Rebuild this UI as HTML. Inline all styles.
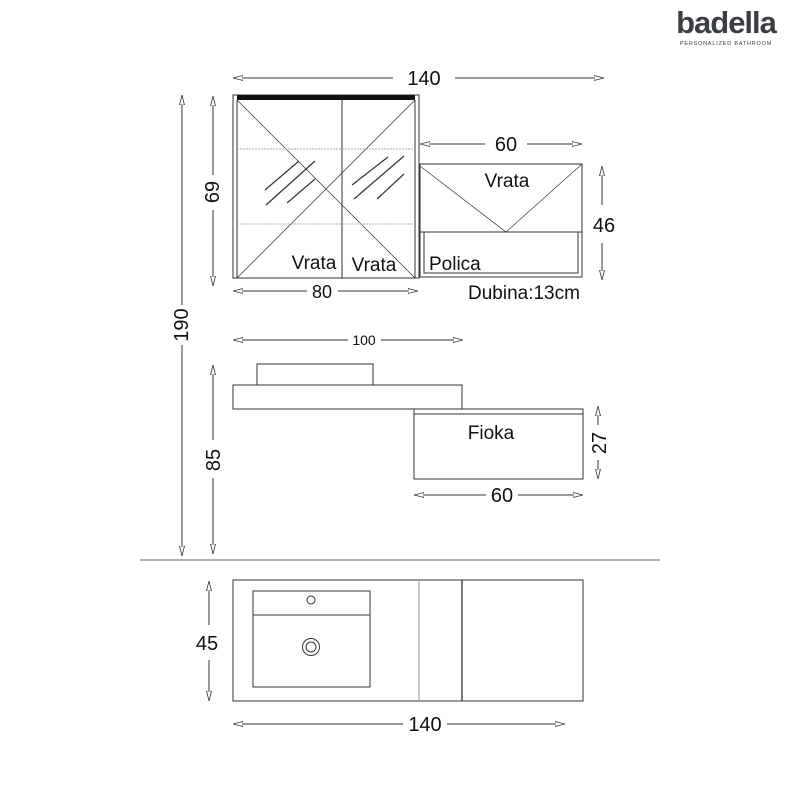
<!DOCTYPE html>
<html><head><style>body{margin:0;background:#fff}svg{display:block}</style></head><body>
<svg width="800" height="800" viewBox="0 0 800 800" xmlns="http://www.w3.org/2000/svg" font-family="Liberation Sans, sans-serif">
<defs>
<marker id="a" viewBox="0 0 10 6" refX="10" refY="3" markerWidth="10" markerHeight="6" orient="auto" markerUnits="userSpaceOnUse"><path d="M0,0.5 L10,3 L0,5.5 Z" fill="#fff" stroke="#333" stroke-width="0.8"/></marker>
</defs>
<rect width="800" height="800" fill="#fff"/>
<!-- logo -->
<text x="726" y="33" text-anchor="middle" font-size="31" font-weight="bold" fill="#3a3d42" letter-spacing="-1">badella</text>
<text x="726" y="45" text-anchor="middle" font-size="5.5" fill="#3a3d42" letter-spacing="0.8">PERSONALIZED BATHROOM</text>
<g stroke="#333" fill="none" stroke-width="1">
<!-- dims lines -->
<line x1="393" y1="78" x2="233" y2="78" marker-end="url(#a)"/><line x1="455" y1="78" x2="604" y2="78" marker-end="url(#a)"/>
<line x1="485" y1="144" x2="420" y2="144" marker-end="url(#a)"/><line x1="527" y1="144" x2="582" y2="144" marker-end="url(#a)"/>
<line x1="602" y1="205" x2="602" y2="166" marker-end="url(#a)"/><line x1="602" y1="243" x2="602" y2="280" marker-end="url(#a)"/>
<line x1="213" y1="175" x2="213" y2="96" marker-end="url(#a)"/><line x1="213" y1="210" x2="213" y2="286" marker-end="url(#a)"/>
<line x1="182" y1="305" x2="182" y2="95" marker-end="url(#a)"/><line x1="182" y1="345" x2="182" y2="556" marker-end="url(#a)"/>
<line x1="307" y1="291" x2="233" y2="291" marker-end="url(#a)"/><line x1="338" y1="291" x2="418" y2="291" marker-end="url(#a)"/>
<line x1="348" y1="340" x2="233" y2="340" marker-end="url(#a)"/><line x1="381" y1="340" x2="463" y2="340" marker-end="url(#a)"/>
<line x1="598" y1="425" x2="598" y2="406" marker-end="url(#a)"/><line x1="598" y1="460" x2="598" y2="479" marker-end="url(#a)"/>
<line x1="486" y1="495" x2="414" y2="495" marker-end="url(#a)"/><line x1="518" y1="495" x2="583" y2="495" marker-end="url(#a)"/>
<line x1="213" y1="440" x2="213" y2="365" marker-end="url(#a)"/><line x1="213" y1="478" x2="213" y2="554" marker-end="url(#a)"/>
<line x1="209" y1="625" x2="209" y2="581" marker-end="url(#a)"/><line x1="209" y1="660" x2="209" y2="701" marker-end="url(#a)"/>
<line x1="403" y1="724" x2="233" y2="724" marker-end="url(#a)"/><line x1="447" y1="724" x2="565" y2="724" marker-end="url(#a)"/>
<!-- top cabinet -->
<rect x="233" y="95" width="186" height="183"/>
<rect x="237" y="95" width="178" height="5" fill="#111" stroke="none"/>
<line x1="237" y1="100" x2="237" y2="278"/><line x1="415" y1="100" x2="415" y2="278"/>
<line x1="342" y1="100" x2="342" y2="278"/>
<line x1="237" y1="100" x2="415" y2="278" stroke-width="0.7"/><line x1="415" y1="100" x2="237" y2="278" stroke-width="0.7"/>
<line x1="237" y1="149" x2="415" y2="149" stroke="#aaa" stroke-dasharray="2,1"/><line x1="237" y1="224" x2="415" y2="224" stroke="#aaa" stroke-dasharray="2,1"/>
<g stroke-width="1.2"><line x1="265" y1="190" x2="299" y2="161"/><line x1="266" y1="205" x2="315" y2="161"/><line x1="287" y1="203" x2="315" y2="179"/>
<line x1="352" y1="185" x2="388" y2="157"/><line x1="354" y1="199" x2="404" y2="156"/><line x1="377" y1="199" x2="404" y2="174"/></g>
<!-- right cabinet -->
<rect x="420" y="164" width="162" height="113"/>
<line x1="420" y1="232" x2="582" y2="232"/>
<polyline points="420,166 506,232 582,164" stroke-width="0.7"/>
<rect x="424" y="232" width="154" height="41"/>
<!-- middle -->
<rect x="257" y="364" width="116" height="21"/>
<rect x="233" y="385" width="229" height="24"/>
<rect x="414" y="409" width="169" height="70"/>
<line x1="414" y1="414" x2="583" y2="414"/>
<line x1="140" y1="560" x2="660" y2="560" stroke="#666"/>
<!-- bottom -->
<rect x="233" y="580" width="350" height="121"/>
<line x1="419" y1="580" x2="419" y2="701" stroke="#999"/>
<line x1="462" y1="580" x2="462" y2="701" stroke-width="1.3"/>
<rect x="253" y="591" width="117" height="96"/>
<line x1="253" y1="615" x2="370" y2="615"/>
<circle cx="311" cy="600" r="4"/>
<circle cx="311" cy="647" r="8.5"/><circle cx="311" cy="647" r="5"/>
</g>
<g fill="#111">
<text x="424" y="85" text-anchor="middle" font-size="20">140</text>
<text x="506" y="151" text-anchor="middle" font-size="20">60</text>
<text x="604" y="232" text-anchor="middle" font-size="20">46</text>
<text transform="translate(219,192) rotate(-90)" text-anchor="middle" font-size="20">69</text>
<text transform="translate(188,325) rotate(-90)" text-anchor="middle" font-size="20">190</text>
<text x="322" y="298" text-anchor="middle" font-size="18">80</text>
<text x="507" y="187" text-anchor="middle" font-size="19">Vrata</text>
<text x="314" y="269" text-anchor="middle" font-size="19">Vrata</text>
<text x="374" y="271" text-anchor="middle" font-size="19">Vrata</text>
<text x="429" y="270" font-size="19">Polica</text>
<text x="468" y="299" font-size="19">Dubina:13cm</text>
<text x="364" y="345" text-anchor="middle" font-size="14">100</text>
<text x="491" y="439" text-anchor="middle" font-size="19">Fioka</text>
<text transform="translate(606,443) rotate(-90)" text-anchor="middle" font-size="20">27</text>
<text x="502" y="502" text-anchor="middle" font-size="20">60</text>
<text transform="translate(220,460) rotate(-90)" text-anchor="middle" font-size="20">85</text>
<text x="207" y="650" text-anchor="middle" font-size="20">45</text>
<text x="425" y="731" text-anchor="middle" font-size="20">140</text>
</g>
</svg>
</body></html>
